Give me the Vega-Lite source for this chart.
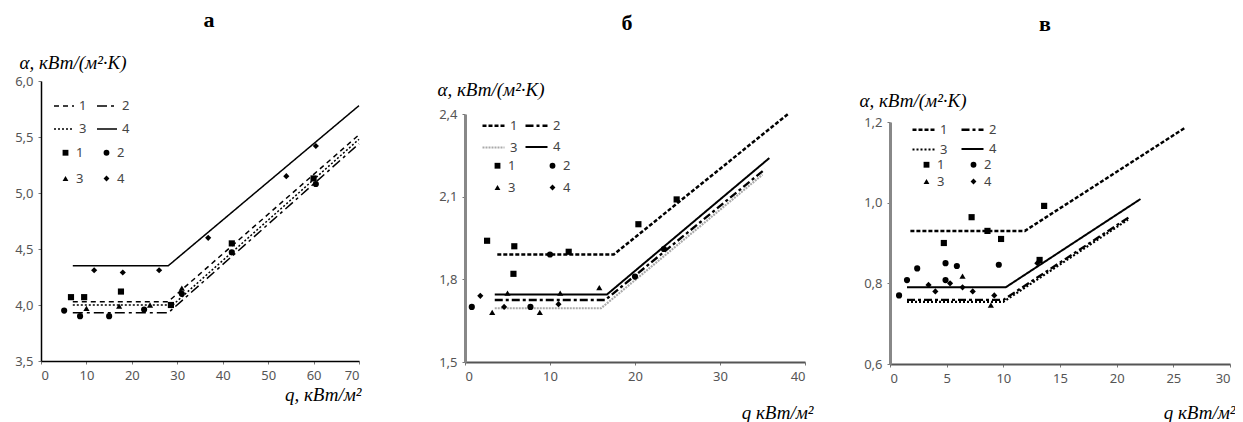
{
  "$schema": "https://vega.github.io/schema/vega-lite/v6.json",
  "background": "white",
  "padding": {"left": 14, "top": 9, "right": 0, "bottom": 0},
  "autosize": {"type": "pad"},
  "datasets": {
    "aL": [
      {"q": 7, "a": 4.03, "line": "1"}, {"q": 28, "a": 4.03, "line": "1"}, {"q": 70, "a": 5.52, "line": "1"},
      {"q": 7, "a": 3.93, "line": "2"}, {"q": 28, "a": 3.93, "line": "2"}, {"q": 70, "a": 5.44, "line": "2"},
      {"q": 7, "a": 4.0, "line": "3"}, {"q": 29, "a": 4.0, "line": "3"}, {"q": 70, "a": 5.48, "line": "3"},
      {"q": 7, "a": 4.35, "line": "4"}, {"q": 28, "a": 4.35, "line": "4"}, {"q": 70, "a": 5.78, "line": "4"}
    ],
    "aP": [
      {"q": 6.6, "a": 4.07, "pt": "p1"}, {"q": 9.5, "a": 4.07, "pt": "p1"}, {"q": 17.6, "a": 4.12, "pt": "p1"}, {"q": 28.6, "a": 4.0, "pt": "p1"}, {"q": 42, "a": 4.55, "pt": "p1"}, {"q": 60, "a": 5.13, "pt": "p1"},
      {"q": 5.1, "a": 3.95, "pt": "p2"}, {"q": 8.6, "a": 3.9, "pt": "p2"}, {"q": 15, "a": 3.9, "pt": "p2"}, {"q": 22.7, "a": 3.96, "pt": "p2"}, {"q": 31, "a": 4.1, "pt": "p2"}, {"q": 42, "a": 4.47, "pt": "p2"}, {"q": 60.5, "a": 5.08, "pt": "p2"},
      {"q": 10, "a": 3.97, "pt": "p3"}, {"q": 17.2, "a": 3.99, "pt": "p3"}, {"q": 24, "a": 4.0, "pt": "p3"}, {"q": 31, "a": 4.15, "pt": "p3"},
      {"q": 11.7, "a": 4.31, "pt": "p4"}, {"q": 18, "a": 4.29, "pt": "p4"}, {"q": 26, "a": 4.31, "pt": "p4"}, {"q": 36.8, "a": 4.6, "pt": "p4"}, {"q": 54, "a": 5.15, "pt": "p4"}, {"q": 60.5, "a": 5.42, "pt": "p4"}
    ],
    "bL": [
      {"q": 3.8, "a": 1.89, "line": "1"}, {"q": 17.5, "a": 1.89, "line": "1"}, {"q": 38, "a": 2.4, "line": "1"},
      {"q": 3.5, "a": 1.725, "line": "2"}, {"q": 16.5, "a": 1.725, "line": "2"}, {"q": 35.3, "a": 2.2, "line": "2"},
      {"q": 3.5, "a": 1.695, "line": "3"}, {"q": 16, "a": 1.695, "line": "3"}, {"q": 35, "a": 2.18, "line": "3"},
      {"q": 3.5, "a": 1.745, "line": "4"}, {"q": 16.7, "a": 1.745, "line": "4"}, {"q": 35.8, "a": 2.24, "line": "4"}
    ],
    "bP": [
      {"q": 2.6, "a": 1.94, "pt": "p1"}, {"q": 5.8, "a": 1.92, "pt": "p1"}, {"q": 5.7, "a": 1.82, "pt": "p1"}, {"q": 12.2, "a": 1.9, "pt": "p1"}, {"q": 20.4, "a": 2.0, "pt": "p1"}, {"q": 24.9, "a": 2.09, "pt": "p1"},
      {"q": 0.8, "a": 1.7, "pt": "p2"}, {"q": 10, "a": 1.89, "pt": "p2"}, {"q": 7.7, "a": 1.7, "pt": "p2"}, {"q": 20, "a": 1.81, "pt": "p2"}, {"q": 23.4, "a": 1.91, "pt": "p2"},
      {"q": 3.2, "a": 1.68, "pt": "p3"}, {"q": 8.8, "a": 1.68, "pt": "p3"}, {"q": 11.2, "a": 1.75, "pt": "p3"}, {"q": 5, "a": 1.75, "pt": "p3"}, {"q": 15.8, "a": 1.77, "pt": "p3"},
      {"q": 1.8, "a": 1.74, "pt": "p4"}, {"q": 4.6, "a": 1.7, "pt": "p4"}, {"q": 11, "a": 1.71, "pt": "p4"}
    ],
    "cL": [
      {"q": 1.8, "a": 0.93, "line": "1"}, {"q": 11.9, "a": 0.93, "line": "1"}, {"q": 26, "a": 1.185, "line": "1"},
      {"q": 1.5, "a": 0.759, "line": "2"}, {"q": 10, "a": 0.759, "line": "2"}, {"q": 21.2, "a": 0.966, "line": "2"},
      {"q": 1.5, "a": 0.754, "line": "3"}, {"q": 10, "a": 0.754, "line": "3"}, {"q": 21, "a": 0.958, "line": "3"},
      {"q": 1.5, "a": 0.79, "line": "4"}, {"q": 10.2, "a": 0.79, "line": "4"}, {"q": 22.1, "a": 1.009, "line": "4"}
    ],
    "cP": [
      {"q": 4.75, "a": 0.9, "pt": "p1"}, {"q": 7.2, "a": 0.964, "pt": "p1"}, {"q": 8.6, "a": 0.93, "pt": "p1"}, {"q": 9.8, "a": 0.91, "pt": "p1"}, {"q": 13.2, "a": 0.858, "pt": "p1"}, {"q": 13.6, "a": 0.992, "pt": "p1"},
      {"q": 0.8, "a": 0.77, "pt": "p2"}, {"q": 1.5, "a": 0.808, "pt": "p2"}, {"q": 2.4, "a": 0.837, "pt": "p2"}, {"q": 4.9, "a": 0.85, "pt": "p2"}, {"q": 5.9, "a": 0.843, "pt": "p2"}, {"q": 9.6, "a": 0.846, "pt": "p2"}, {"q": 4.9, "a": 0.808, "pt": "p2"},
      {"q": 6.4, "a": 0.818, "pt": "p3"}, {"q": 8.9, "a": 0.746, "pt": "p3"},
      {"q": 3.4, "a": 0.796, "pt": "p4"}, {"q": 4.0, "a": 0.78, "pt": "p4"}, {"q": 5.3, "a": 0.8, "pt": "p4"}, {"q": 6.4, "a": 0.79, "pt": "p4"}, {"q": 7.3, "a": 0.78, "pt": "p4"}, {"q": 9.2, "a": 0.77, "pt": "p4"}, {"q": 13, "a": 0.85, "pt": "p4"}
    ]
  },
  "spacing": 75,
  "hconcat": [
    {
      "title": {"text": "а", "offset": 21, "dx": 9},
      "width": 318,
      "height": 280,
      "encoding": {
        "x": {"field": "q", "type": "quantitative", "scale": {"domain": [0, 70], "nice": false, "zero": false},
          "axis": {"values": [0, 10, 20, 30, 40, 50, 60, 70], "format": "d", "title": "q, кВт/м²", "titleX": 320, "titleAlign": "right", "titleY": 43, "titleBaseline": "bottom", "domainColor": "black", "domainWidth": 1.5}},
        "y": {"field": "a", "type": "quantitative", "scale": {"domain": [3.5, 6.0], "nice": false, "zero": false},
          "axis": {"values": [3.5, 4, 4.5, 5, 5.5, 6], "labelExpr": "replace(format(datum.value, '.1f'), '.', ',')", "title": "α,  кВт/(м²·К)", "titleAngle": 0, "titleAlign": "left", "titleBaseline": "bottom", "titleX": -22, "titleY": -9, "domainColor": "black", "domainWidth": 1.5}}
      },
      "layer": [
        {
          "data": {"name": "aL"},
          "mark": {"type": "line"},
          "encoding": {
            "strokeDash": {"field": "line", "type": "nominal", "scale": {"domain": ["1", "2", "3", "4"], "range": [[5, 4], [10, 4, 3, 4], [2, 2], [1, 0]]},
              "legend": {"orient": "none", "direction": "horizontal", "legendX": 12, "legendY": 14, "columns": 2, "columnPadding": 7, "rowPadding": 5, "symbolSize": 400, "title": null}},
            "strokeWidth": {"field": "line", "type": "nominal", "scale": {"domain": ["1", "2", "3", "4"], "range": [1.5, 1.5, 2.5, 1.8]},
              "legend": {"orient": "none", "direction": "horizontal", "legendX": 12, "legendY": 14, "columns": 2, "columnPadding": 7, "rowPadding": 5, "symbolSize": 400, "title": null}},
            "color": {"value": "black"}
          }
        },
        {
          "data": {"name": "aP"},
          "mark": {"type": "point", "filled": true, "opacity": 1, "color": "black", "size": 38},
          "encoding": {
            "shape": {"field": "pt", "type": "nominal", "scale": {"domain": ["p1", "p2", "p3", "p4"], "range": ["square", "circle", "triangle-up", "diamond"]},
              "legend": {"orient": "none", "direction": "horizontal", "legendX": 18, "legendY": 65, "columns": 2, "columnPadding": 16, "rowPadding": 12, "symbolSize": 34, "symbolFillColor": "black", "symbolStrokeColor": "black", "labelExpr": "replace(datum.label, 'p', '')", "title": null}}
          }
        }
      ]
    },
    {
      "spacing": 46,
      "resolve": {"scale": {"x": "independent", "y": "independent", "strokeDash": "independent", "shape": "independent", "strokeWidth": "independent", "color": "independent"}, "legend": {"strokeDash": "independent", "shape": "independent", "strokeWidth": "independent", "color": "independent"}},
      "hconcat": [
        {
          "title": {"text": "б", "offset": 45, "dx": -8},
          "width": 340,
          "height": 281,
          "encoding": {
            "x": {"field": "q", "type": "quantitative", "scale": {"domain": [0, 40], "nice": false, "zero": false},
              "axis": {"values": [0, 10, 20, 30, 40], "format": "d", "title": "q   кВт/м²", "titleX": 348, "titleAlign": "right", "titleY": 60, "titleBaseline": "bottom", "domainColor": "#555", "domainWidth": 2}},
            "y": {"field": "a", "type": "quantitative", "scale": {"domain": [1.5, 2.4], "nice": false, "zero": false, "range": [281, 33]},
              "axis": {"values": [1.5, 1.8, 2.1, 2.4], "labelExpr": "replace(format(datum.value, '.1f'), '.', ',')", "title": "α,  кВт/(м²·К)", "titleAngle": 0, "titleAlign": "left", "titleBaseline": "bottom", "titleX": -28, "titleY": 18, "domainColor": "#888", "domainWidth": 3}}
          },
          "layer": [
            {
              "data": {"name": "bL"},
              "mark": {"type": "line"},
              "encoding": {
                "strokeDash": {"field": "line", "type": "nominal", "scale": {"domain": ["1", "2", "3", "4"], "range": [[4, 2], [8, 3, 3, 3], [2, 1], [1, 0]]},
                  "legend": {"orient": "none", "direction": "horizontal", "legendX": 16, "legendY": 32, "columns": 2, "columnPadding": 2, "rowPadding": 2, "symbolSize": 484, "title": null}},
                "strokeWidth": {"field": "line", "type": "nominal", "scale": {"domain": ["1", "2", "3", "4"], "range": [2.5, 2, 2, 3]},
                  "legend": {"orient": "none", "direction": "horizontal", "legendX": 16, "legendY": 32, "columns": 2, "columnPadding": 2, "rowPadding": 2, "symbolSize": 484, "title": null}},
                "color": {"field": "line", "type": "nominal", "scale": {"domain": ["1", "2", "3", "4"], "range": ["black", "black", "#aaaaaa", "black"]},
                  "legend": {"orient": "none", "direction": "horizontal", "legendX": 16, "legendY": 32, "columns": 2, "columnPadding": 2, "rowPadding": 2, "symbolSize": 484, "title": null}}
              }
            },
            {
              "data": {"name": "bP"},
              "mark": {"type": "point", "filled": true, "opacity": 1, "color": "black", "size": 38},
              "encoding": {
                "shape": {"field": "pt", "type": "nominal", "scale": {"domain": ["p1", "p2", "p3", "p4"], "range": ["square", "circle", "triangle-up", "diamond"]},
                  "legend": {"orient": "none", "direction": "horizontal", "legendX": 26, "legendY": 78, "columns": 2, "columnPadding": 30, "rowPadding": 8, "symbolSize": 34, "symbolFillColor": "black", "symbolStrokeColor": "black", "labelExpr": "replace(datum.label, 'p', '')", "title": null}}
              }
            }
          ]
        },
        {
          "title": {"text": "в", "offset": 45, "dx": -15},
          "width": 340,
          "height": 283,
          "encoding": {
            "x": {"field": "q", "type": "quantitative", "scale": {"domain": [0, 30], "nice": false, "zero": false},
              "axis": {"values": [0, 5, 10, 15, 20, 25, 30], "format": "d", "title": "q   кВт/м²", "titleX": 345, "titleAlign": "right", "titleY": 58, "titleBaseline": "bottom", "domainColor": "#555", "domainWidth": 2}},
            "y": {"field": "a", "type": "quantitative", "scale": {"domain": [0.6, 1.2], "nice": false, "zero": false, "range": [283, 41]},
              "axis": {"values": [0.6, 0.8, 1.0, 1.2], "labelExpr": "replace(format(datum.value, '.1f'), '.', ',')", "title": "α,  кВт/(м²·К)", "titleAngle": 0, "titleAlign": "left", "titleBaseline": "bottom", "titleX": -31, "titleY": 29, "domainColor": "#888", "domainWidth": 3}}
          },
          "layer": [
            {
              "data": {"name": "cL"},
              "mark": {"type": "line"},
              "encoding": {
                "strokeDash": {"field": "line", "type": "nominal", "scale": {"domain": ["1", "2", "3", "4"], "range": [[4, 2], [8, 3, 3, 3], [2, 2], [1, 0]]},
                  "legend": {"orient": "none", "direction": "horizontal", "legendX": 21, "legendY": 36, "columns": 2, "columnPadding": 8, "rowPadding": -3, "symbolSize": 484, "title": null}},
                "strokeWidth": {"field": "line", "type": "nominal", "scale": {"domain": ["1", "2", "3", "4"], "range": [2.5, 2, 1, 2.5]},
                  "legend": {"orient": "none", "direction": "horizontal", "legendX": 21, "legendY": 36, "columns": 2, "columnPadding": 8, "rowPadding": -3, "symbolSize": 484, "title": null}},
                "color": {"value": "black"}
              }
            },
            {
              "data": {"name": "cP"},
              "mark": {"type": "point", "filled": true, "opacity": 1, "color": "black", "size": 38},
              "encoding": {
                "shape": {"field": "pt", "type": "nominal", "scale": {"domain": ["p1", "p2", "p3", "p4"], "range": ["square", "circle", "triangle-up", "diamond"]},
                  "legend": {"orient": "none", "direction": "horizontal", "legendX": 30, "legendY": 77, "columns": 2, "columnPadding": 22, "rowPadding": 3, "symbolSize": 34, "symbolFillColor": "black", "symbolStrokeColor": "black", "labelExpr": "replace(datum.label, 'p', '')", "title": null}}
              }
            }
          ]
        }
      ]
    }
  ],
  "resolve": {"scale": {"x": "independent", "y": "independent", "strokeDash": "independent", "shape": "independent", "strokeWidth": "independent", "color": "independent"}, "legend": {"strokeDash": "independent", "shape": "independent", "strokeWidth": "independent", "color": "independent"}},
  "config": {
    "view": {"stroke": null},
    "title": {"font": "Liberation Serif", "fontSize": 22, "fontWeight": "bold", "anchor": "middle", "color": "black"},
    "axis": {"labelFont": "Noto Sans", "labelFontSize": 13, "labelColor": "#555", "grid": false, "tickSize": 3, "tickColor": "#777", "labelPadding": 5,
      "titleFont": "Liberation Serif", "titleFontStyle": "italic", "titleFontWeight": "normal", "titleFontSize": 19, "titleColor": "black"},
    "legend": {"labelFont": "Noto Sans", "labelFontSize": 13, "labelColor": "#444", "labelOffset": 4}
  }
}
